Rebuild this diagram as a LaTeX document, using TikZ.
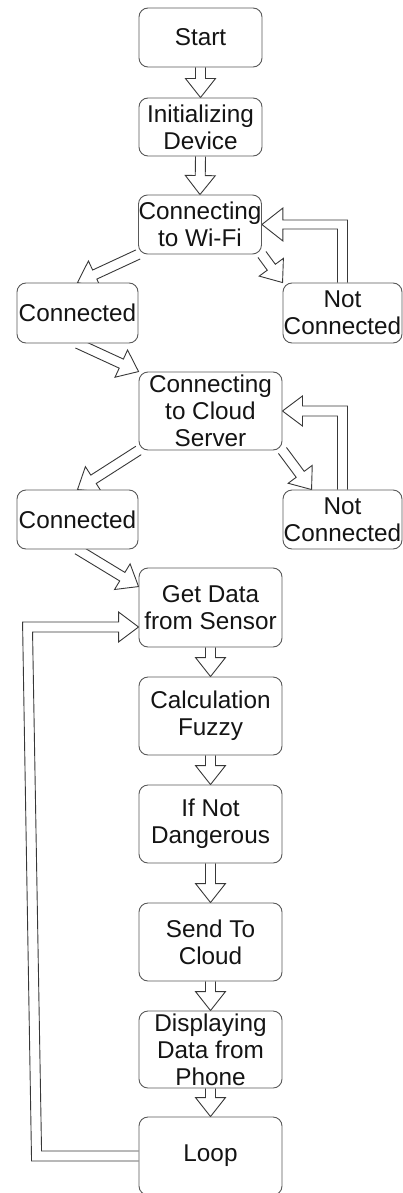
\documentclass[tikz,border=0pt]{standalone}
\usepackage{fontspec}
\setmainfont{Liberation Sans}
\usetikzlibrary{calc,backgrounds}

\tikzset{
  box/.style={draw=black!65, line width=0.9pt, rounded corners=9pt, fill=white,
    inner sep=0pt, align=center, text=black!92,
    font=\fontsize{24.3}{27}\selectfont},
  flex/.style={draw=black!78, line width=0.9pt, fill=white, line join=miter},
}

% hollow block arrow from #1 to #2 (shaft half-width 5, head half-width 15, head length 19)
\newcommand{\flexarrow}[2]{%
  \coordinate (fab) at ($(#2)!19pt!(#1)$);
  \draw[flex] ($(#1)!5pt!90:(#2)$) -- ($(fab)!5pt!90:(#2)$) -- ($(fab)!15pt!90:(#2)$)
    -- (#2) -- ($(fab)!15pt!-90:(#2)$) -- ($(fab)!5pt!-90:(#2)$) -- ($(#1)!5pt!-90:(#2)$);
}

\begin{document}
\begin{tikzpicture}[x=1pt, y=-1pt]
\useasboundingbox (0,0) rectangle (403,1193);

% upper column
\node[box, minimum width=123pt, minimum height=59pt] (start) at (200.5,37.5) {Start};
\node[box, minimum width=123pt, minimum height=58pt] (init) at (200.5,127) {Initializing\\Device};
\node[box, minimum width=122pt, minimum height=59pt] (wifi) at (200,224.5) {Connecting\\to Wi-Fi};
\node[box, minimum width=121pt, minimum height=60pt] (conn1) at (77.5,313) {Connected};
\node[box, minimum width=119pt, minimum height=60pt] (nc1) at (342.5,313) {Not\\Connected};
\node[box, minimum width=143pt, minimum height=78pt] (cloud) at (210.5,411) {Connecting\\to Cloud\\Server};
\node[box, minimum width=121pt, minimum height=59pt] (conn2) at (77.5,519.5) {Connected};
\node[box, minimum width=119pt, minimum height=59pt] (nc2) at (342.5,519.5) {Not\\Connected};

% main loop column
\node[box, minimum width=143pt, minimum height=79pt] (get) at (210.5,607.5) {Get Data\\from Sensor};
\node[box, minimum width=143pt, minimum height=78pt] (calc) at (210.5,716) {Calculation\\Fuzzy};
\node[box, minimum width=143pt, minimum height=78pt] (ifnot) at (210.5,824) {If Not\\Dangerous};
\node[box, minimum width=143pt, minimum height=78pt] (send) at (210.5,942) {Send To\\Cloud};
\node[box, minimum width=143pt, minimum height=77pt] (disp) at (210.5,1049.5) {Displaying\\Data from\\Phone};
\node[box, minimum width=143pt, minimum height=78pt] (loop) at (210.5,1156) {Loop};

\begin{pgfonlayer}{background}
  % straight steps
  \flexarrow{start.south}{init.north}
  \flexarrow{init.south}{wifi.north}
  \flexarrow{get.south}{calc.north}
  \flexarrow{calc.south}{ifnot.north}
  \flexarrow{ifnot.south}{send.north}
  \flexarrow{send.south}{disp.north}
  \flexarrow{disp.south}{loop.north}

  % branches
  \flexarrow{wifi.south west}{conn1.north}
  \flexarrow{wifi.south east}{nc1.north west}
  \flexarrow{conn1.south}{cloud.north west}
  \flexarrow{cloud.south west}{conn2.north}
  \flexarrow{cloud.south east}{$(nc2.north west)+(29,0)$}
  \flexarrow{conn2.south}{$(get.north west)+(0,19)$}

  % retries
  \draw[flex] let \p1=(nc1.north), \p2=(wifi.east) in
    (\x1-5pt,\y1) -- (\x1-5pt,\y2-4.5pt) -- (\x2+21pt,\y2-4.5pt) -- (\x2+21pt,\y2-16.5pt)
    -- (\p2) -- (\x2+21pt,\y2+16.5pt) -- (\x2+21pt,\y2+4.5pt) -- (\x1+5pt,\y2+4.5pt) -- (\x1+5pt,\y1);
  \draw[flex] let \p1=(nc2.north), \p2=(cloud.east) in
    (\x1-5pt,\y1) -- (\x1-5pt,\y2-5pt) -- (\x2+20pt,\y2-5pt) -- (\x2+20pt,\y2-15pt)
    -- (\p2) -- (\x2+20pt,\y2+15pt) -- (\x2+20pt,\y2+5pt) -- (\x1+5pt,\y2+5pt) -- (\x1+5pt,\y1);

  % back to sensor reading
  \draw[flex] let \p1=(loop.west), \p2=($(get.west)+(0,19.5)$) in
    (\x1,\y1-5pt) -- (\x1-107pt,\y1-5pt) -- (\x1-116pt,\y2+5pt) -- (\x2-20pt,\y2+5pt)
    -- (\x2-20pt,\y2+15pt) -- (\p2) -- (\x2-20pt,\y2-15pt) -- (\x2-20pt,\y2-5pt)
    -- (\x1-106pt,\y2-5pt) -- (\x1-97pt,\y1+5pt) -- (\x1,\y1+5pt);
\end{pgfonlayer}
\end{tikzpicture}
\end{document}
